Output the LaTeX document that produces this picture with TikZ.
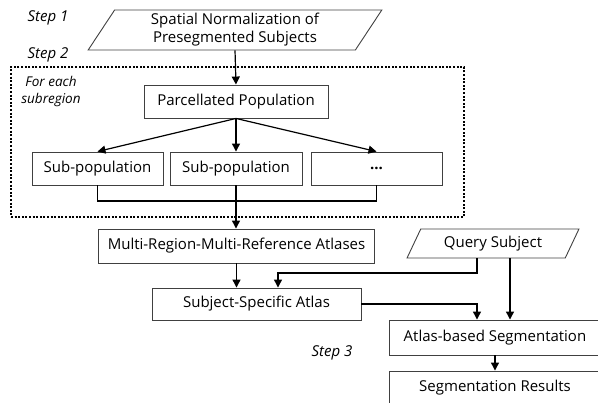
\documentclass[tikz,border=0pt]{standalone}
\usepackage{fontspec}
\setmainfont{Open Sans}
\usetikzlibrary{shapes.geometric,arrows.meta,positioning}

\begin{document}
\begin{tikzpicture}[
  x=1pt, y=-1pt,
  box/.style={draw=black!75, line width=0.9pt, minimum height=33pt, inner sep=2pt, font=\fontsize{15}{18}\selectfont, align=center},
  iobox/.style={box, trapezium, trapezium left angle=63, trapezium right angle=117, trapezium stretches=true},
  steplabel/.style={font=\fontsize{15}{18}\selectfont\itshape},
  region/.style={draw, line width=1.1pt, dash pattern=on 2pt off 1.6pt},
  arrow/.style={-{Triangle[length=8pt,width=8pt]}, line width=1.2pt},
  link/.style={line width=1.2pt}
]
\useasboundingbox (0,0) rectangle (598,403);

\node[region, minimum width=453, minimum height=150] (subregion) at (237.5,142) {};

\node[iobox, minimum width=294, minimum height=40] (norm) at (235,30) {Spatial Normalization of\\Presegmented Subjects};
\node[box, minimum width=184] (parc) at (236,101.5) {Parcellated Population};
\node[box, minimum width=131] (sub1) at (97.5,168.5) {Sub-population};
\node[box, minimum width=132] (sub2) at (236,168.5) {Sub-population};
\node[box, minimum width=131] (sub3) at (376.5,168.5) {\textbf{...}};
\node[box, minimum width=276, minimum height=34] (multi) at (236.5,246) {Multi-Region-Multi-Reference Atlases};
\node[iobox, minimum width=172, minimum height=29] (query) at (493,243.5) {Query Subject};
\node[box, minimum width=209, minimum height=32] (ssa) at (256.5,304) {Subject-Specific Atlas};
\node[box, minimum width=212, minimum height=35] (seg) at (495,337.5) {Atlas-based Segmentation};
\node[box, minimum width=212, minimum height=33] (res) at (495,387.5) {Segmentation Results};

\node[steplabel] (step1) at (48,18) {Step 1};
\node[steplabel] (step2) at (48,55) {Step 2};
\node[steplabel] (step3) at (332,353) {Step 3};
\node[font=\fontsize{13.5}{17}\selectfont\itshape, align=center] (foreach) at (51,91) {For each\\subregion};

\coordinate (merge) at (236,201);
\coordinate (qturn) at (278,273);

\draw[arrow] (norm.south) -- (parc.north);
\draw[arrow] (parc.south) -- (sub1.north);
\draw[arrow] (parc.south) -- (sub2.north);
\draw[arrow] (parc.south) -- (sub3.north);
\draw[link] (sub1.south) |- (merge) -| (sub3.south);
\draw[arrow] (sub2.south) -- (multi.north -| sub2.south);
\draw[arrow] (multi.south) -- (multi.south |- ssa.north);
\draw[arrow] ([xshift=-16pt]query.south) |- (qturn) -- (qturn |- ssa.north);
\draw[arrow] ([xshift=17pt]query.south) -- ([xshift=17pt]query.south |- seg.north);
\draw[arrow] (ssa.east) -| ([xshift=-18pt]seg.north);
\draw[arrow] (seg.south) -- (res.north);
\end{tikzpicture}
\end{document}
